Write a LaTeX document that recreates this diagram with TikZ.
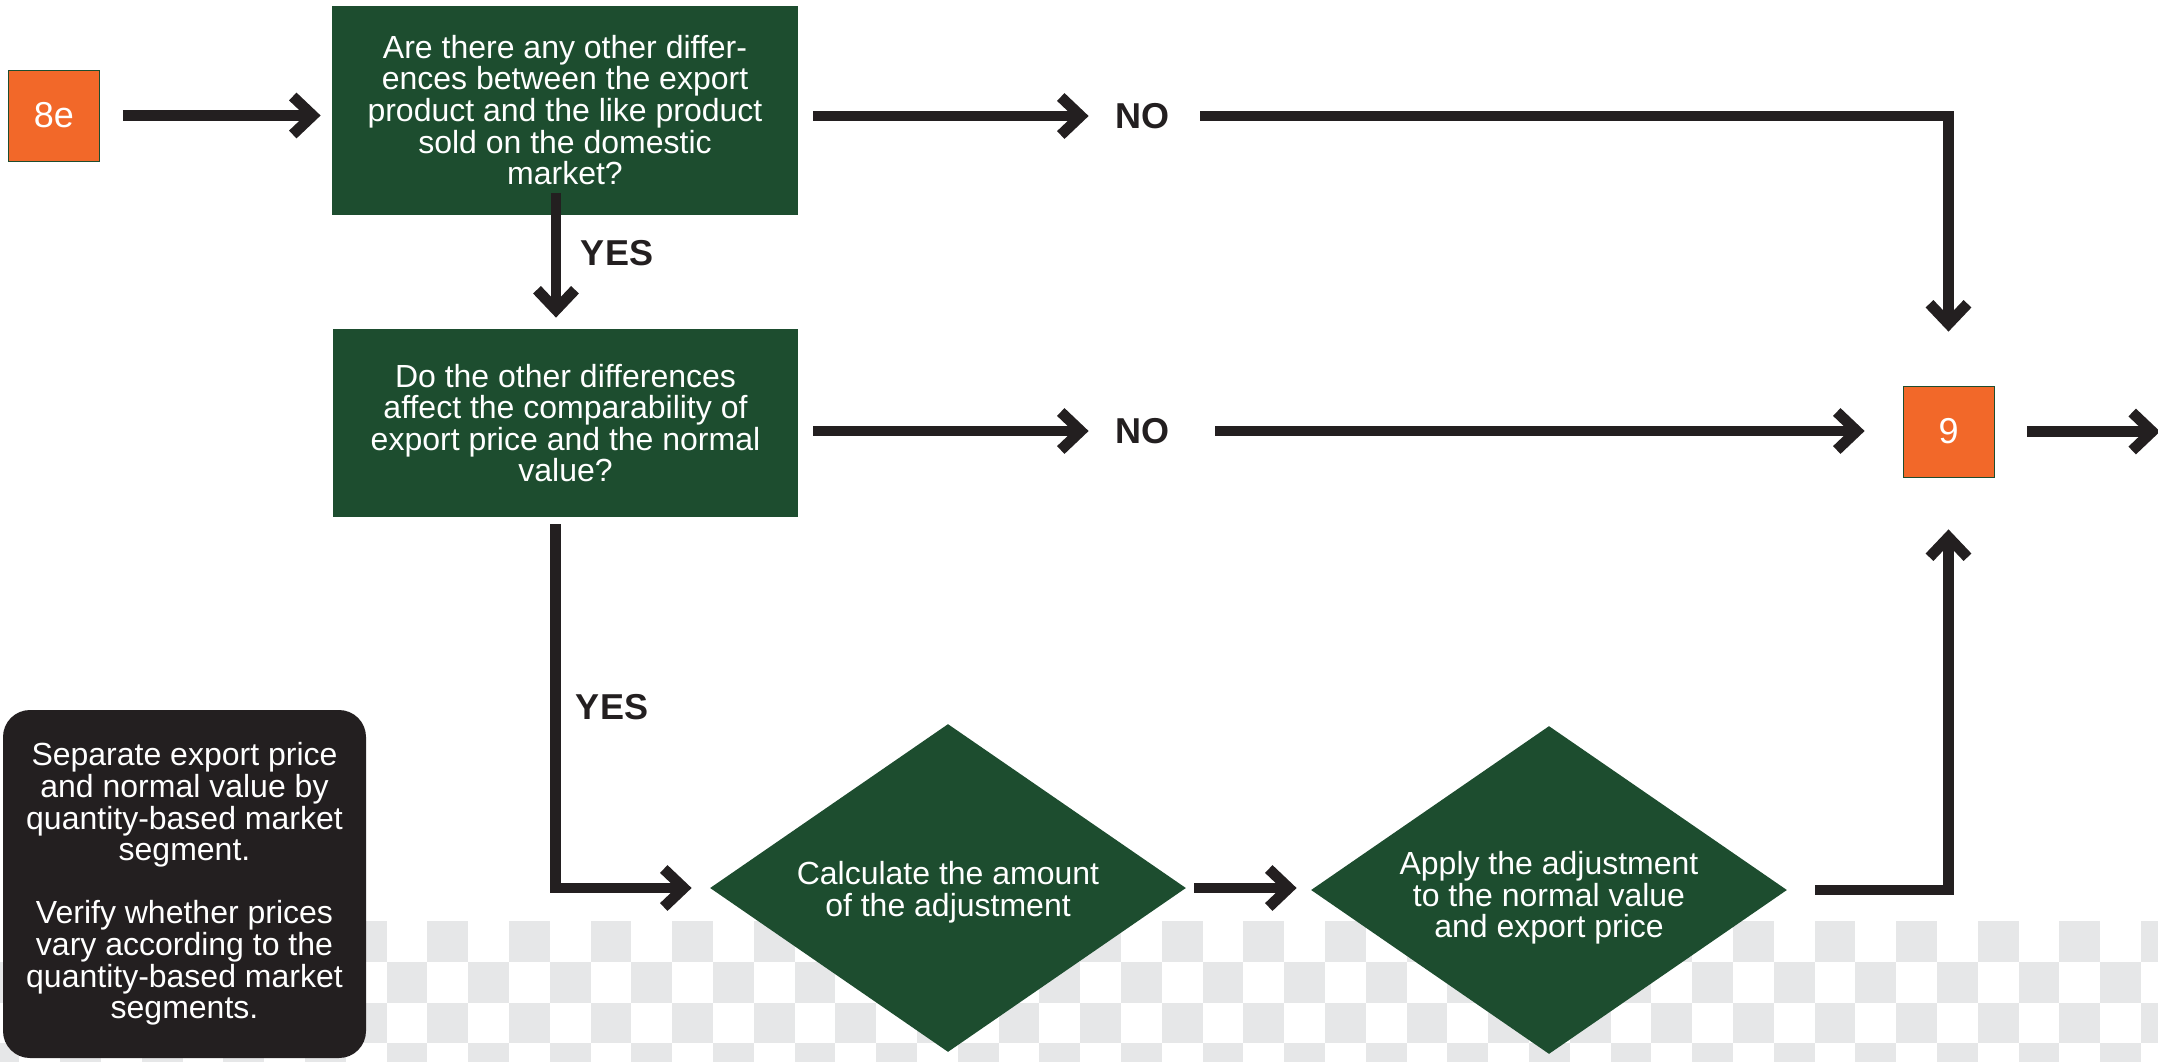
\documentclass[tikz,border=0pt]{standalone}
\usepackage{fontspec}
\setmainfont{Liberation Sans}
\usepackage{xcolor}
\usetikzlibrary{arrows.meta,shapes.geometric}
\definecolor{G}{RGB}{29,77,47}
\definecolor{O}{RGB}{242,104,41}
\definecolor{K}{RGB}{35,31,32}
\definecolor{C}{RGB}{230,231,232}
\newcommand{\bodyfont}{\fontsize{16}{15.8}\selectfont}
\newcommand{\ynfont}{\fontsize{18}{18}\selectfont\bfseries}
\newcommand{\drawchecker}{
    \foreach \r in {0,...,3}{
    \foreach \k in {-2,0,...,52}{
      \fill[C] ({19.4+40.8*(\k+mod(\r,2))},{921+40.8*\r}) rectangle ++(40.8,40.8);
    }
    }
}
\tikzset{
  qbox/.style={fill=G, text=white, inner sep=0pt, align=center, font=\bodyfont},
  stepnum/.style={fill=O, draw=G, line width=.4pt, text=white, minimum width=45.5pt, minimum height=45.5pt, inner sep=0pt, font=\fontsize{18}{18}\selectfont},
  act/.style 2 args={diamond, fill=G, minimum width=238pt, minimum height=164pt, inner sep=0pt,
    label={[text=white, align=center, font=\bodyfont, yshift=#1]center:#2}},
  note/.style={fill=K, text=white, rounded corners=13.5pt, minimum width=181.5pt, minimum height=174pt, inner sep=0pt, align=center, font=\bodyfont},
  flow/.style={K, line width=5.4pt, -{Straight Barb[sharp,length=10pt,width=19pt]}},
  yn/.style={text=K, font=\ynfont, inner sep=0pt}
}
\begin{document}
\begin{tikzpicture}[x=0.5pt,y=-0.5pt]
\useasboundingbox (0,0) rectangle (2158,1061);
\drawchecker
\node[stepnum] (e8) at (54,115.5) {8e};
\node[qbox, minimum width=233pt, minimum height=104.5pt] (b1) at (565,110) {Are there any other differ-\\ences between the export\\product and the like product\\sold on the domestic\\market?};
\node[qbox, minimum width=232.5pt, minimum height=94pt] (b2) at (565.5,423) {Do the other differences\\affect the comparability of\\export price and the normal\\value?};
\node[yn] (no1) at (1142,116) {NO};
\node[yn] (no2) at (1142,431) {NO};
\node[yn] (yes1) at (617,253) {YES};
\node[yn] (yes2) at (612,707) {YES};
\node[stepnum] (n9) at (1948.5,431.5) {9};
\node[act={-2pt}{{Calculate the amount\\of the adjustment}}] (d1) at (948,888) {};
\node[act={-4pt}{{Apply the adjustment\\to the normal value\\and export price}}] (d2) at (1549,890) {};
\node[note] (info) at (184.5,884) {Separate export price\\and normal value by\\quantity-based market\\segment.\\[15.8pt]Verify whether prices\\vary according to the\\quantity-based market\\segments.};
\coordinate (out) at (2160,431.5);
\draw[flow, shorten <=11.5pt, shorten >=5.5pt] (e8.east) -- (e8.east -| b1.west);
\draw[flow, shorten <=7.5pt, shorten >=13pt] (b1.east |- no1) -- (no1.west);
\draw[flow, shorten <=15.5pt, shorten >=27pt] (no1.east) -| (n9.north);
\draw[flow, shorten >=5.5pt] ([xshift=-4.5pt,yshift=11pt]b1.south) -- ([xshift=-4.5pt]b1.south |- b2.north);
\draw[flow, shorten <=7.5pt, shorten >=13pt] (b2.east |- no2) -- (no2.west);
\draw[flow, shorten <=23pt, shorten >=19pt] (no2.east) -- (no2.east -| n9.west);
\draw[flow, shorten <=16.5pt] (n9.east) -- (out);
\draw[flow, shorten <=3.5pt, shorten >=9pt] ([xshift=-5pt]b2.south) |- (d1.west);
\draw[flow, shorten <=4pt, shorten >=7pt] (d1.east) -- (d1.east -| d2.west);
\draw[flow, shorten <=14pt, shorten >=26pt] (d2.east) -| (n9.south);
\end{tikzpicture}
\end{document}
